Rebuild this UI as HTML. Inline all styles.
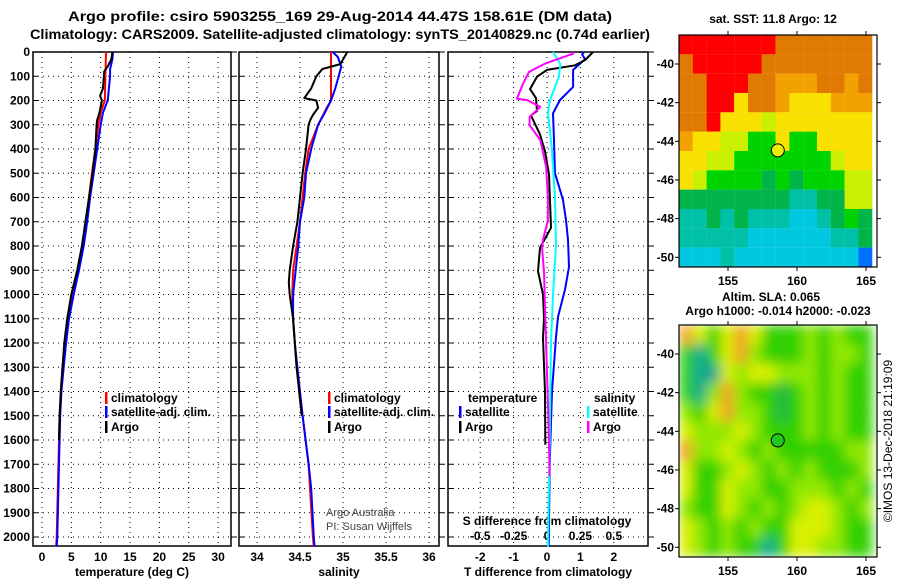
<!DOCTYPE html>
<html><head><meta charset="utf-8">
<style>
html,body{margin:0;padding:0;background:#fff;}
svg{display:block;font-family:"Liberation Sans",Arial,sans-serif;}
text{font-weight:bold;font-size:12px;fill:#000;}
</style></head>
<body>
<svg id="chart" width="900" height="580" viewBox="0 0 900 580" xmlns="http://www.w3.org/2000/svg">
<defs>
<filter id="blur" filterUnits="userSpaceOnUse" x="679" y="325" width="198" height="232"><feGaussianBlur stdDeviation="6" edgeMode="duplicate"/></filter>
<clipPath id="clipB"><rect x="679" y="325" width="198" height="232"/></clipPath>
</defs>
<text x="68" y="21" textLength="544" lengthAdjust="spacingAndGlyphs" style="font-size:14px">Argo profile: csiro 5903255_169 29-Aug-2014 44.47S 158.61E (DM data)</text>
<text x="30" y="39" textLength="620" lengthAdjust="spacingAndGlyphs" style="font-size:14px">Climatology: CARS2009. Satellite-adjusted climatology: synTS_20140829.nc (0.74d earlier)</text>
<text x="773" y="23" text-anchor="middle">sat. SST: 11.8 Argo: 12</text>
<text x="771" y="301" text-anchor="middle">Altim. SLA: 0.065</text>
<text x="778" y="315" text-anchor="middle">Argo h1000: -0.014 h2000: -0.023</text>
<text transform="translate(892,441) rotate(-90)" text-anchor="middle" style="font-weight:normal;font-size:12px">©IMOS 13-Dec-2018 21:19:09</text>
</svg>
<script>
// ---- data ----
const depthTicks=[0,100,200,300,400,500,600,700,800,900,1000,1100,1200,1300,1400,1500,1600,1700,1800,1900,2000];
const tempTicks=[0,5,10,15,20,25,30];
const salTicks=[34,34.5,35,35.5,36];
const tdiffTicks=[-2,-1,0,1,2];
const sdiffTicks=[-0.5,-0.25,0,0.25,0.5];
const lonTicks=[155,160,165];
const latTicks=[-40,-42,-44,-46,-48,-50];

const tClimD=[0,200,250,300,400,500,600,700,800,900,1000,1100,1200,1300,1400,1500,1700,2000,2040];
const tClimV=[10.9,10.7,10.0,9.6,9.1,8.5,8.0,7.5,6.9,6.1,5.2,4.4,3.9,3.5,3.2,3.0,2.8,2.5,2.4];
const tSatD=[0,30,70,100,200,250,300,400,500,600,700,800,900,1000,1100,1200,1300,1400,1500,1700,2000,2040];
const tSatV=[12.1,12.0,11.6,11.6,11.2,10.4,10.0,9.4,8.8,8.2,7.7,7.1,6.3,5.4,4.6,4.1,3.7,3.3,3.1,2.9,2.6,2.5];
const tArgoD=[0,30,60,80,150,180,200,250,280,300,400,500,600,700,800,900,1000,1100,1200,1300,1400,1500,1600];
const tArgoV=[12.0,11.8,11.2,10.6,10.4,9.9,10.2,9.8,9.4,9.3,9.1,8.6,8.0,7.4,6.8,6.0,5.0,4.3,3.8,3.5,3.2,3.0,2.9];

const sClimD=[0,200,230,300,400,500,600,700,800,900,1000,1100,1200,1300,1500,1700,2000,2040];
const sClimV=[34.86,34.86,34.81,34.71,34.60,34.56,34.53,34.50,34.46,34.42,34.41,34.42,34.44,34.46,34.53,34.60,34.65,34.66];
const sSatD=[0,20,60,150,200,250,300,400,500,600,700,800,900,1000,1100,1200,1300,1500,1700,1800,2000,2040];
const sSatV=[34.88,34.94,34.98,34.91,34.86,34.79,34.71,34.63,34.57,34.55,34.50,34.48,34.45,34.42,34.42,34.44,34.47,34.53,34.60,34.63,34.66,34.67];
const sArgoD=[0,50,70,100,150,190,200,230,260,280,300,400,500,600,700,800,850,900,950,1000,1100,1300,1500];
const sArgoV=[35.05,34.97,34.76,34.69,34.63,34.55,34.69,34.71,34.65,34.62,34.60,34.57,34.53,34.50,34.47,34.42,34.40,34.38,34.37,34.38,34.42,34.46,34.52];

const dtSatD=[0,10,30,74,144,198,253,363,500,610,693,775,886,980,1092,1175,1400,1700,2040];
const dtSatV=[1.11,1.05,1.14,0.78,0.78,0.39,0.18,0.21,0.24,0.48,0.57,0.63,0.66,0.54,0.33,0.27,0.15,0.08,0.05];
const dtArgoD=[0,33,55,74,102,153,190,243,262,340,409,505,615,725,808,904,1000,1096,1179,1400,1620];
const dtArgoV=[1.38,1.14,0.84,0.0,-0.3,-0.51,-0.33,-0.3,-0.48,-0.21,-0.06,0.06,0.09,0.12,-0.21,-0.27,-0.12,-0.09,-0.12,-0.06,-0.05];
const dsSatD=[0,50,100,200,250,400,600,800,1000,1200,1600,2040];
const dsSatV=[0.045,0.10,0.09,0.022,0.007,0.037,0.06,0.067,0.045,0.03,0.02,0.007];
const dsArgoD=[0,7,48,82,131,193,198,226,268,302,363,473,597,693,775,808,914,1052,1200,1500,1750];
const dsArgoV=[0.2,0.195,-0.015,-0.135,-0.18,-0.225,-0.15,-0.05,-0.13,-0.13,-0.05,-0.007,0.007,0.007,-0.03,-0.037,-0.022,-0.015,-0.007,0.01,0.02];

const argoLon=158.61, argoLat=-44.47;
const sstGrid=[
"RRRRRRROOOOOOO",
"ORRRRROOOOOOOO",
"OORRROOoooOOoO",
"OORRYOOoYYYooo",
"OORYYYyYYYYYYY",
"oYYyyGGYGGYYYY",
"YYyyGGGGGGGyYY",
"YyGGGGgGgGGGyy",
"ggggggggTTggyy",
"TTgTgTTTCCTgGg",
"TTTTTCCCCCCTTg",
"CCCTCCCCCCCCCB"];
const slaGrid=[
"OYGYOYGGGLGLGG",
"GTGYOLGGGLGLLG",
"GTTYLYYLLLGLGG",
"GTLOLGGDGLGLGG",
"LGYOLLGDGLGLGG",
"YLLLYLGGGLGLGG",
"OLLYLGLGGGGGLL",
"YGGLYLGLGLGGGL",
"YGGYLLGGLLLGLG",
"LGGYLGLGLYYLGL",
"YLGLGLGGYYYLGG",
"YLGLGGTGYYLLGG"];

// ---- helpers ----
const svg=document.getElementById('chart');
const NS='http://www.w3.org/2000/svg';
function mk(tag,attrs,parent){const e=document.createElementNS(NS,tag);for(const k in attrs)e.setAttribute(k,attrs[k]);(parent||svg).appendChild(e);return e;}
const Y0=52, PPM=0.2425, YB=546;
const yD=d=>Y0+d*PPM;
const xT=t=>42+t*5.87;
const xS=s=>257+(s-34)*86;
const xDT=t=>547+t*33.4;
const xDS=s=>547+s*133.6;
const panels=[{x0:33,x1:231,sx:xT,ticks:tempTicks,fmt:v=>String(v),title:'temperature (deg C)',name:'temperature'},
{x0:239,x1:439,sx:xS,ticks:salTicks,fmt:v=>String(v),title:'salinity',name:'salinity'},
{x0:448,x1:648,sx:xDT,ticks:tdiffTicks,fmt:v=>String(v),title:'T difference from climatology',name:'difference'}];

panels.forEach((p,pi)=>{
  const g=mk('g',{});
  
  
  depthTicks.forEach(d=>{
    const l=mk('line',{x1:p.x0,x2:p.x1,y1:yD(d),y2:yD(d),stroke:'#000','stroke-width':1,'stroke-dasharray':'1,4'},g);
    
    
    mk('line',{x1:p.x0,x2:p.x0+5,y1:yD(d),y2:yD(d),stroke:'#000'},g);
    mk('line',{x1:p.x1,x2:p.x1+6,y1:yD(d),y2:yD(d),stroke:'#000'},g);
  });
  p.ticks.forEach(v=>{
    const x=p.sx(v);
    const l=mk('line',{x1:x,x2:x,y1:Y0,y2:YB,stroke:'#000','stroke-width':1,'stroke-dasharray':'1,4'},g);
    
    
    const t=mk('text',{x:x,y:561,'text-anchor':'middle'},g);t.textContent=p.fmt(v);
    
    
  });
  const fr=mk('rect',{x:p.x0,y:Y0,width:p.x1-p.x0,height:YB-Y0,fill:'none',stroke:'#000','stroke-width':1.5},g);
  
  
  const at=mk('text',{x:(p.x0+p.x1)/2,y:576,'text-anchor':'middle'},g);at.textContent=p.title;
  
  
});
depthTicks.forEach(d=>{
  const t=mk('text',{x:30,y:yD(d)+4,'text-anchor':'end'});t.textContent=String(d);
  
  
});
sdiffTicks.forEach(v=>{
  const t=mk('text',{x:xDS(v),y:540,'text-anchor':'middle'});t.textContent=(v===0?'0':String(v));
  
  
});
{const t=mk('text',{x:547,y:525,'text-anchor':'middle'});t.textContent='S difference from climatology';

}

function profile(D,V,sx,color,name,w){
  let d='';
  for(let i=0;i<D.length;i++){const x=sx(V[i]),y=yD(D[i]);d+=(i?'L':'M')+x.toFixed(1)+','+y.toFixed(1);}
  const p=mk('path',{d:d,fill:'none',stroke:color,'stroke-width':w||2,'stroke-linejoin':'round'});
  
  
}
profile(tClimD,tClimV,xT,'#ff0000','temp-climatology-line');
profile(tSatD,tSatV,xT,'#0000ff','temp-satellite-line');
profile(tArgoD,tArgoV,xT,'#000000','temp-argo-line');
profile(sClimD,sClimV,xS,'#ff0000','sal-climatology-line');
profile(sSatD,sSatV,xS,'#0000ff','sal-satellite-line');
profile(sArgoD,sArgoV,xS,'#000000','sal-argo-line');
profile(dtSatD,dtSatV,xDT,'#0000ff','tdiff-satellite-line');
profile(dtArgoD,dtArgoV,xDT,'#000000','tdiff-argo-line');
profile(dsSatD,dsSatV,xDS,'#00ffff','sdiff-satellite-line');
profile(dsArgoD,dsArgoV,xDS,'#ff00ff','sdiff-argo-line');

function legend(x,y,color,label,name){
  mk('rect',{x:x,y:y-10,width:2.5,height:12,fill:color});
  const t=mk('text',{x:x+6,y:y});t.textContent=label;
  
  
}
legend(105,402,'#ff0000','climatology','legend-climatology');
legend(105,416,'#0000ff','satellite-adj. clim.','legend-satellite');
legend(105,431,'#000000','Argo','legend-argo');
legend(328,402,'#ff0000','climatology','legend-climatology-sal');
legend(328,416,'#0000ff','satellite-adj. clim.','legend-satellite-sal');
legend(328,431,'#000000','Argo','legend-argo-sal');
{const t=mk('text',{x:468,y:402});t.textContent='temperature';}
{const t=mk('text',{x:594,y:402});t.textContent='salinity';}
legend(459,416,'#0000ff','satellite','legend-t-satellite');
legend(459,431,'#000000','Argo','legend-t-argo');
legend(587,416,'#00ffff','satellite','legend-s-satellite');
legend(587,431,'#ff00ff','Argo','legend-s-argo');
{const t=mk('text',{x:326,y:516});t.textContent='Argo Australia';t.setAttribute('style','font-weight:normal;font-size:11px;fill:#444');}
{const t=mk('text',{x:326,y:530});t.textContent='PI: Susan Wijffels';t.setAttribute('style','font-weight:normal;font-size:11px;fill:#444');}

// ---- maps ----
const MX0=679,MW=198,MH=232,LON0=151.45,LAT0=-38.5;
const xL=lon=>MX0+(lon-LON0)*13.8;
const yLat=(lat,top)=>top+(LAT0-lat)*19.33;
const sstPal={R:'#ff0000',O:'#e07a00',o:'#f2a200',Y:'#f8e000',y:'#c8f000',G:'#00d400',g:'#00b44a',T:'#00c0a8',C:'#00c8e0',B:'#0070ff'};
const slaPal={G:'#30d000',L:'#90e800',Y:'#d8f000',O:'#f0a020',T:'#10a890',D:'#20b840'};
function map(top,grid,pal,name,blur,dotColor){
  const g=mk('g',{});
  
  
  let cg=g;
  if(blur){const c=mk('g',{'clip-path':'url(#clipB)'},g);cg=mk('g',{filter:'url(#blur)'},c);}
  grid.forEach((row,r)=>{
    for(let c=0;c<row.length;c++){
      const lon=LON0+c, lat=LAT0-r;
      const x=xL(lon), y=yLat(lat,top);
      const cell=mk('rect',{x:x,y:y,width:13.9,height:19.4,fill:pal[row[c]]},cg);
      
      
    }
  });
  mk('rect',{x:MX0,y:top,width:MW,height:MH,fill:'none',stroke:'#000','stroke-width':1.2},g);
  latTicks.forEach(l=>{
    const y=yLat(l,top);
    mk('line',{x1:MX0,x2:MX0-4,y1:y,y2:y,stroke:'#000'},g);
    mk('line',{x1:MX0+MW,x2:MX0+MW+4,y1:y,y2:y,stroke:'#000'},g);
    const t=mk('text',{x:674,y:y+4,'text-anchor':'end'},g);t.textContent=String(l);
    
    
  });
  lonTicks.forEach(l=>{
    const x=xL(l);
    mk('line',{x1:x,x2:x,y1:top,y2:top-4,stroke:'#000'},g);
    mk('line',{x1:x,x2:x,y1:top+MH,y2:top+MH+4,stroke:'#000'},g);
    const t=mk('text',{x:x,y:top+MH+18,'text-anchor':'middle'},g);t.textContent=String(l);
    
    
  });
  const m=mk('circle',{cx:xL(argoLon),cy:yLat(argoLat,top),r:6.5,fill:dotColor,stroke:'#000','stroke-width':1},g);
  
  
}
map(35,sstGrid,sstPal,'sst-map',false,'#e8f000');
map(325,slaGrid,slaPal,'sla-map',true,'#20c820');
</script>
</body></html>
